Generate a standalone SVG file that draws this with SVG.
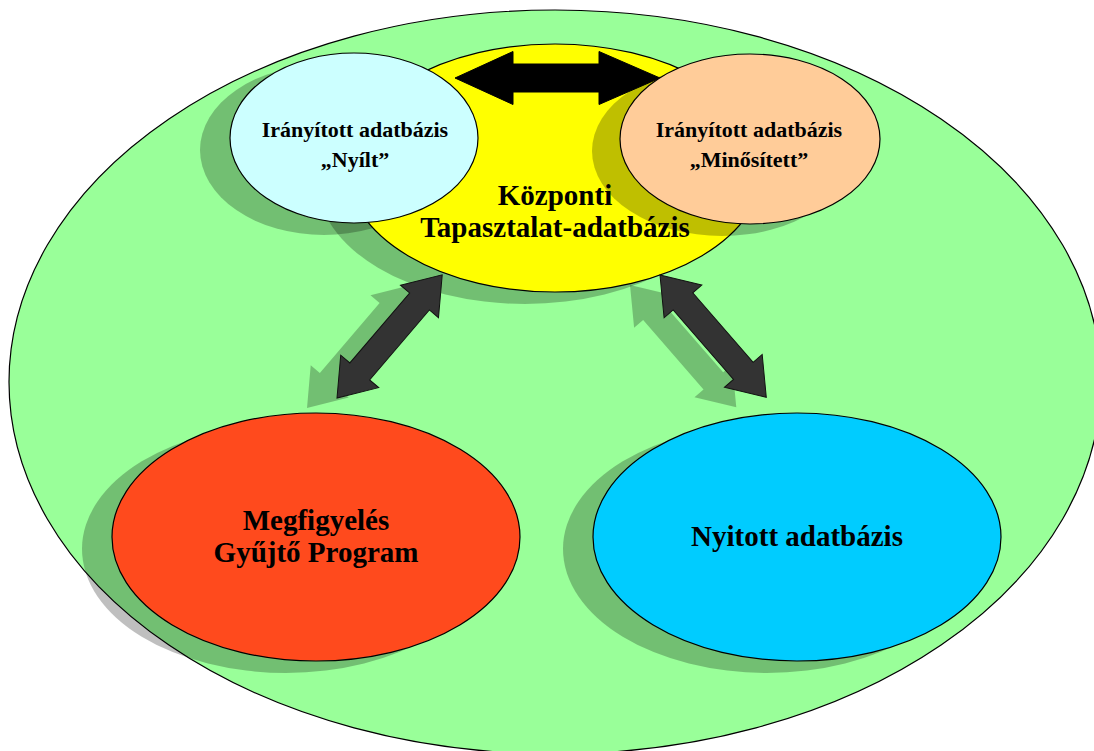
<svg xmlns="http://www.w3.org/2000/svg" xmlns:xlink="http://www.w3.org/1999/xlink" width="1094" height="751" viewBox="0 0 1094 751">
  <style>
    .edge { stroke: #000; stroke-width: 1.2; }
    .shadow { fill: #000; fill-opacity: 0.25; stroke: none; }
    .lbl { font-family: "Liberation Serif", "Times New Roman", serif; font-weight: bold; fill: #000; text-anchor: middle; }
    .big { font-size: 29px; }
    .small { font-size: 22px; }
    .link { fill: #333333; stroke: #111; stroke-width: 1; stroke-linejoin: miter; }
  </style>
  <defs>
    <!-- double-headed arrow along +x, length 162 -->
    <path id="dbl" d="M0,0 L35,-25 L35,-13 L127,-13 L127,-25 L162,0 L127,25 L127,13 L35,13 L35,25 Z"/>
  </defs>

  <rect width="1094" height="751" fill="#fff"/>

  <!-- outer domain -->
  <g id="domain">
    <ellipse cx="555" cy="382" rx="546" ry="372" fill="#99ff99" class="edge"/>
  </g>

  <!-- shadows lying beneath the central database -->
  <g id="under-shadows">
    <ellipse class="shadow" cx="324" cy="150" rx="124" ry="85"/>
    <ellipse class="shadow" cx="525" cy="180" rx="208" ry="124"/>
  </g>

  <g id="kozponti">
    <ellipse cx="555" cy="168" rx="208" ry="124" fill="#ffff00" class="edge"/>
    <text class="lbl big" x="555" y="205">Központi</text>
    <text class="lbl big" x="555" y="237">Tapasztalat-adatbázis</text>
  </g>

  <g id="minositett-shadow">
    <ellipse class="shadow" cx="722" cy="151" rx="130" ry="85"/>
  </g>

  <!-- link between the two controlled databases -->
  <g id="top-link">
    <path d="M455,78 L513,51.5 L513,64 L599,64 L599,51.5 L660,78 L599,104.5 L599,92 L513,92 L513,104.5 Z" fill="#000" stroke="#000" stroke-width="1"/>
  </g>

  <g id="nyilt">
    <ellipse cx="354" cy="138" rx="124" ry="85" fill="#ccffff" class="edge"/>
    <text class="lbl small" x="355" y="137">Irányított adatbázis</text>
    <text class="lbl small" x="355" y="167">„Nyílt”</text>
  </g>

  <g id="minositett">
    <ellipse cx="750" cy="139" rx="130" ry="85" fill="#ffcc99" class="edge"/>
    <text class="lbl small" x="749" y="137">Irányított adatbázis</text>
    <text class="lbl small" x="749" y="167">„Minősített”</text>
  </g>

  <g id="gyujto">
    <ellipse class="shadow" cx="286" cy="549" rx="204" ry="124"/>
    <ellipse cx="316" cy="537" rx="204" ry="124" fill="#ff4a1d" class="edge"/>
    <text class="lbl big" x="316" y="530">Megfigyelés</text>
    <text class="lbl big" x="316" y="562">Gyűjtő Program</text>
  </g>

  <g id="nyitott">
    <ellipse class="shadow" cx="767" cy="549" rx="204" ry="124"/>
    <ellipse cx="797" cy="537" rx="204" ry="124" fill="#00ccff" class="edge"/>
    <text class="lbl big" x="797" y="546">Nyitott adatbázis</text>
  </g>

  <!-- connectors -->
  <g id="connectors">
    <use xlink:href="#dbl" class="shadow" transform="translate(307,408) rotate(-49.5)"/>
    <use xlink:href="#dbl" class="shadow" transform="translate(630,285) rotate(49)"/>
    <use xlink:href="#dbl" class="link" transform="translate(337,398) rotate(-49.5)"/>
    <use xlink:href="#dbl" class="link" transform="translate(660,275) rotate(49)"/>
  </g>
</svg>
